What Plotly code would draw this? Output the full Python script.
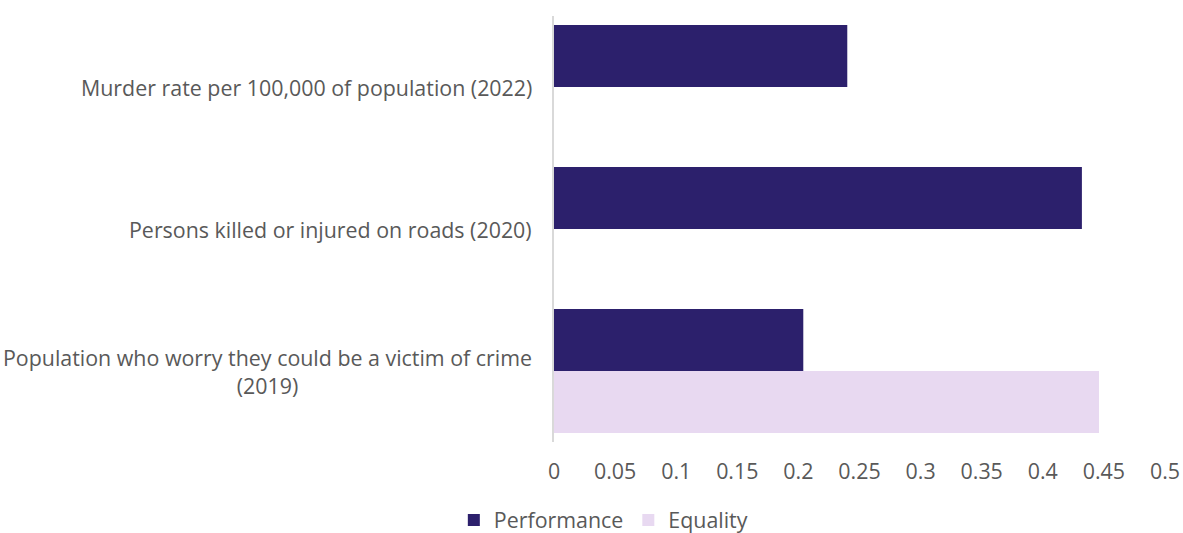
import plotly.graph_objects as go

# Indicator names, top to bottom
categories = [
    "Murder rate per 100,000 of population (2022)",
    "Persons killed or injured on roads (2020)",
    "Population who worry they could be a victim of crime<br>(2019)",
]
performance = [0.24, 0.432, 0.204]
equality = [None, None, 0.446]
tick_vals = [0, 0.05, 0.1, 0.15, 0.2, 0.25, 0.3, 0.35, 0.4, 0.45, 0.5]
tick_text = ["0", "0.05", "0.1", "0.15", "0.2", "0.25", "0.3", "0.35", "0.4", "0.45", "0.5"]

TEXT = "#595959"
FONT = "Open Sans"
SIZE = 21.4

fig = go.Figure()
fig.add_trace(go.Bar(
    name="Performance", y=categories, x=performance, orientation="h",
    marker=dict(color="#2C206C", line=dict(width=0)),
))
fig.add_trace(go.Bar(
    name="Equality", y=categories, x=equality, orientation="h",
    marker=dict(color="#E8D9F1", line=dict(width=0)),
))

# Category labels as centred multi-line text to the left of the axis
for cat in categories:
    fig.add_annotation(
        x=0, xref="paper", xanchor="right", xshift=-20,
        y=cat, yref="y", yanchor="middle",
        text=cat, showarrow=False, align="center",
        font=dict(family=FONT, size=SIZE, color=TEXT),
    )

fig.update_layout(
    width=1183, height=533,
    margin=dict(l=554, r=18, t=16, b=91, autoexpand=False),
    paper_bgcolor="white", plot_bgcolor="white",
    barmode="group", bargap=0.127, bargroupgap=0,
    font=dict(family=FONT, size=SIZE, color=TEXT),
    showlegend=True,
    legend=dict(
        orientation="h", xref="container", yref="container",
        x=0.51, xanchor="center", y=0.024, yanchor="middle",
        font=dict(family=FONT, size=SIZE, color=TEXT),
        itemwidth=30, traceorder="normal",
    ),
    xaxis=dict(
        range=[0, 0.5], tickvals=tick_vals, ticktext=tick_text,
        showgrid=False, zeroline=False, showline=False, ticks="",
        ticklabelstandoff=15,
        tickfont=dict(family=FONT, size=SIZE, color=TEXT),
    ),
    yaxis=dict(
        autorange="reversed", showticklabels=False, ticks="",
        showgrid=False, zeroline=False,
        showline=True, linecolor="#D9D9D9", linewidth=2,
    ),
)

fig.write_html("out.html")
